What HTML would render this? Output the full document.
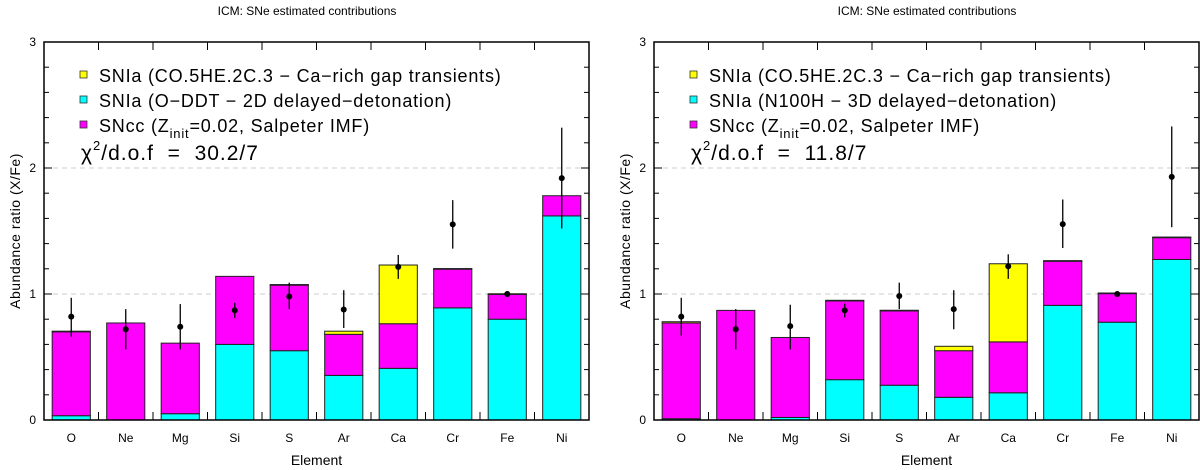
<!DOCTYPE html>
<html><head><meta charset="utf-8">
<style>
body{margin:0;background:#fff;}
svg{display:block;font-family:"Liberation Sans",sans-serif;}
</style></head>
<body>
<svg id="chart" width="1200" height="470" xmlns="http://www.w3.org/2000/svg"></svg>
<script>
const categories = ["O","Ne","Mg","Si","S","Ar","Ca","Cr","Fe","Ni"];
const yTicks = [0,1,2,3];
// Left panel
const leftCyan    = [0.034,0,0.05,0.60,0.55,0.354,0.41,0.89,0.80,1.62];
const leftMagenta = [0.666,0.77,0.56,0.54,0.52,0.326,0.354,0.307,0.197,0.16];
const leftYellow  = [0.005,0,0,0,0.005,0.025,0.466,0.005,0.005,0];
const leftObs     = [0.82,0.72,0.74,0.87,0.98,0.877,1.215,1.553,1.0,1.92];
const leftErrHi   = [0.97,0.88,0.92,0.93,1.09,1.03,1.31,1.745,1.01,2.32];
const leftErrLo   = [0.66,0.56,0.56,0.81,0.88,0.73,1.12,1.36,0.99,1.52];
// Right panel
const rightCyan    = [0.01,0,0.02,0.32,0.276,0.18,0.216,0.91,0.776,1.274];
const rightMagenta = [0.76,0.87,0.635,0.625,0.59,0.37,0.404,0.35,0.227,0.173];
const rightYellow  = [0.01,0,0,0.005,0.005,0.035,0.62,0.005,0.005,0.005];
const rightObs     = [0.82,0.72,0.745,0.87,0.984,0.88,1.22,1.555,1.0,1.93];
const rightErrHi   = [0.97,0.88,0.915,0.925,1.09,1.03,1.315,1.75,1.01,2.33];
const rightErrLo   = [0.67,0.56,0.56,0.815,0.88,0.72,1.12,1.365,0.99,1.53];

const NS="http://www.w3.org/2000/svg";
const svg=document.getElementById('chart');
function mk(tag,attrs,parent){const e=document.createElementNS(NS,tag);for(const k in attrs)e.setAttribute(k,attrs[k]);(parent||svg).appendChild(e);return e;}

function panel(p){
  const g=mk('g',{});
  
  
  const x0=p.x0,x1=p.x1,yb=420,yt=42;
  const slot=(x1-x0)/categories.length;
  const yS=v=>yb-(v/3)*(yb-yt);
  const xC=i=>x0+slot*(i+0.5);
  const bw=slot*0.7;
  const t=mk('text',{x:p.titleX,y:15,'font-size':12,'text-anchor':'middle',fill:'#000'},g);
  t.textContent='ICM: SNe estimated contributions';
  
  
  [1,2].forEach(v=>{const l=mk('line',{x1:x0,x2:x1,y1:yS(v),y2:yS(v),stroke:'#ccc','stroke-dasharray':'5,4','stroke-width':1},g);
    
    });
  categories.forEach((c,i)=>{
    const parts=[[p.cyan[i],'#00ffff'],[p.mag[i],'#ff00ff'],[p.yel[i],'#ffff00']];
    let base=0;
    const bg=mk('g',{},g);
    
    
    parts.forEach(([v,col])=>{
      if(v>0){const r=mk('rect',{x:xC(i)-bw/2,y:yS(base+v),width:bw,height:yS(base)-yS(base+v),fill:col,stroke:'#222','stroke-width':1},bg);
        
        }
      base+=v;
    });
    const e=mk('line',{x1:xC(i),x2:xC(i),y1:yS(p.hi[i]),y2:yS(p.lo[i]),stroke:'#000','stroke-width':1.3},g);
    
    
    const d=mk('circle',{cx:xC(i),cy:yS(p.obs[i]),r:3,fill:'#000'},g);
    
    
    const lb=mk('text',{x:xC(i),y:442,'font-size':12,'text-anchor':'middle',fill:'#000'},g);
    lb.textContent=c;
    
    
  });
  const f=mk('rect',{x:x0,y:yt,width:x1-x0,height:yb-yt,fill:'none',stroke:'#000','stroke-width':1.5},g);
  
  
  for(let k=0;k<=15;k++){const v=k*0.2;const len=(k%5===0)?8:5;
    mk('line',{x1:x0,x2:x0+len,y1:yS(v),y2:yS(v),stroke:'#000'},g);
    mk('line',{x1:x1,x2:x1-len,y1:yS(v),y2:yS(v),stroke:'#000'},g);}
  for(let i=1;i<categories.length;i++){const x=x0+slot*i;
    mk('line',{x1:x,x2:x,y1:yb,y2:yb-8,stroke:'#000'},g);
    mk('line',{x1:x,x2:x,y1:yt,y2:yt+8,stroke:'#000'},g);}
  yTicks.forEach(v=>{const tl=mk('text',{x:x0-8,y:yS(v)+4,'font-size':12,'text-anchor':'end',fill:'#000'},g);tl.textContent=v;
    
    });
  const yl=mk('text',{x:0,y:0,'font-size':14,'text-anchor':'middle',fill:'#000','letter-spacing':0.5,transform:`translate(${x0-24},${(yb+yt)/2}) rotate(-90)`},g);
  yl.textContent='Abundance ratio (X/Fe)';
  
  
  const xl=mk('text',{x:(x0+x1)/2,y:465,'font-size':14,'text-anchor':'middle',fill:'#000'},g);
  xl.textContent='Element';
  
  
  const lx=x0+39;
  [['#ffff00','SNIa (CO.5HE.2C.3 − Ca−rich gap transients)'],['#00ffff',p.iaLabel]].forEach(([col,txt],k)=>{
    const le=mk('g',{},g);
    
    
    mk('rect',{x:lx-3,y:71+k*25,width:7,height:7,fill:col,stroke:'#333','stroke-width':0.8},le);
    const tt=mk('text',{x:lx+16,y:82+k*25,'font-size':18,'letter-spacing':0.8,fill:'#000'},le);tt.textContent=txt;
  });
  const le=mk('g',{},g);
  
  
  mk('rect',{x:lx-3,y:121,width:7,height:7,fill:'#ff00ff',stroke:'#333','stroke-width':0.8},le);
  const tt=mk('text',{x:lx+16,y:132,'font-size':18,'letter-spacing':0.8,fill:'#000'},le);
  tt.innerHTML='SNcc (Z<tspan font-size="13" dy="6">init</tspan><tspan dy="-6">=0.02, Salpeter IMF)</tspan>';
  const ch=mk('text',{x:lx-2,y:160,'font-size':21,'letter-spacing':1,fill:'#000'},g);
  ch.innerHTML='χ<tspan font-size="13" dy="-10">2</tspan><tspan dy="10">/d.o.f\u00a0\u00a0=\u00a0\u00a0'+p.chi+'</tspan>';
  
  
}
panel({name:'left-panel',x0:44,x1:589,titleX:307,cyan:leftCyan,mag:leftMagenta,yel:leftYellow,obs:leftObs,hi:leftErrHi,lo:leftErrLo,iaLabel:'SNIa (O−DDT − 2D delayed−detonation)',chi:'30.2/7'});
panel({name:'right-panel',x0:654,x1:1199,titleX:927,cyan:rightCyan,mag:rightMagenta,yel:rightYellow,obs:rightObs,hi:rightErrHi,lo:rightErrLo,iaLabel:'SNIa (N100H − 3D delayed−detonation)',chi:'11.8/7'});
</script>
</body></html>
